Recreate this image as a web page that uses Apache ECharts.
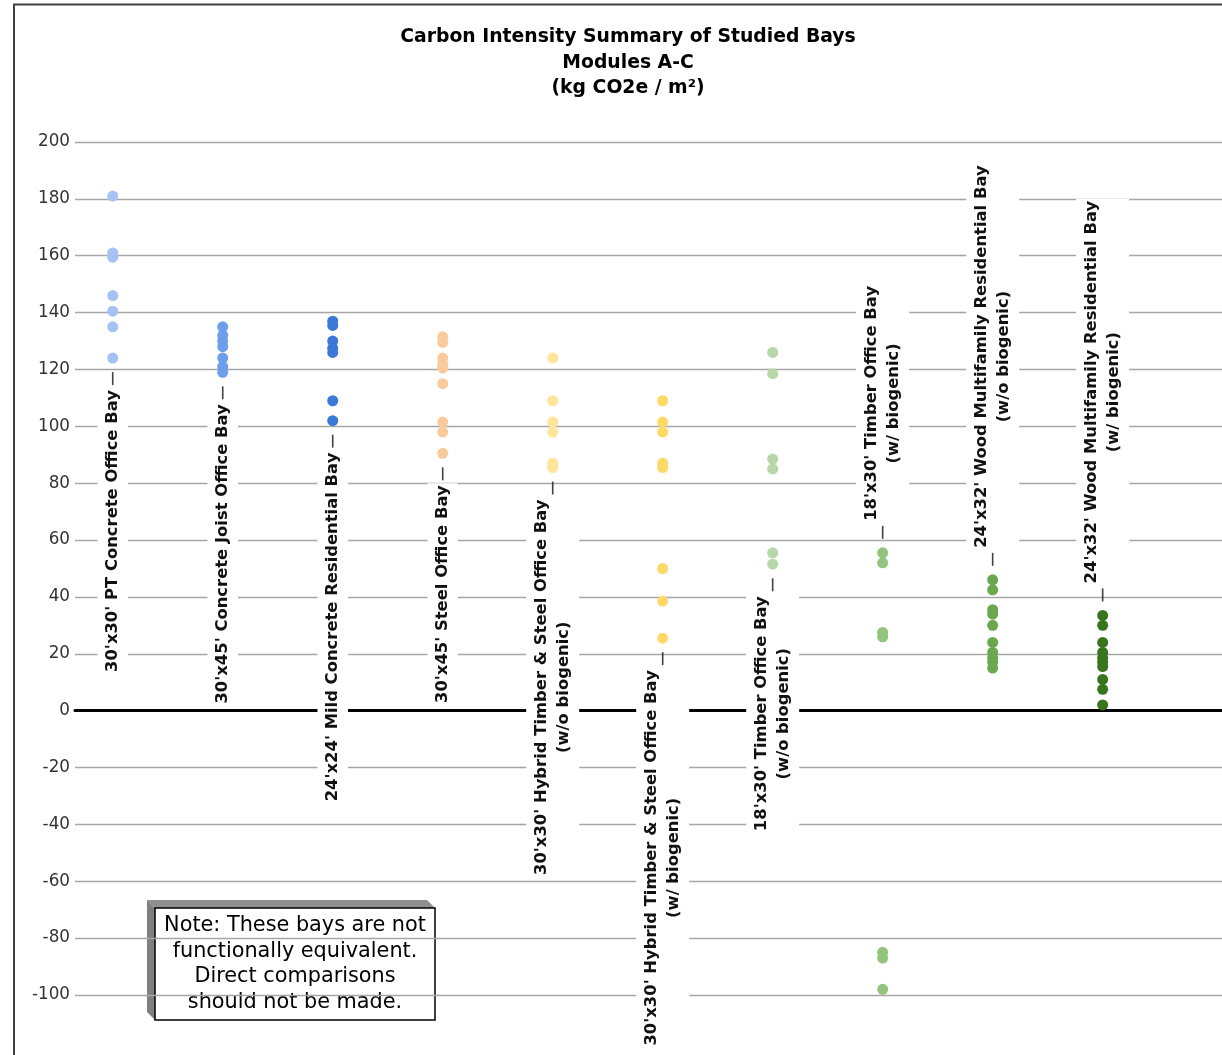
<!DOCTYPE html>
<html>
<head>
<meta charset="utf-8">
<script src="https://cdn.jsdelivr.net/npm/echarts@6/dist/echarts.min.js"></script>
<style>
  html, body { margin: 0; padding: 0; background: #fff; }
  #chart { width: 1222px; height: 1055px; }
</style>
</head>
<body>
<div id="chart"></div>
<script>
// Studied bays: structural description and biogenic-carbon note
const bayNames = [
  "30'x30' PT Concrete Office Bay",
  "30'x45' Concrete Joist Office Bay",
  "24'x24' Mild Concrete Residential Bay",
  "30'x45' Steel Office Bay",
  "30'x30' Hybrid Timber & Steel Office Bay",
  "30'x30' Hybrid Timber & Steel Office Bay",
  "18'x30' Timber Office Bay",
  "18'x30' Timber Office Bay",
  "24'x32' Wood Multifamily Residential Bay",
  "24'x32' Wood Multifamily Residential Bay"
];
const bayNotes = ['', '', '', '', '(w/o biogenic)', '(w/ biogenic)', '(w/o biogenic)', '(w/ biogenic)', '(w/o biogenic)', '(w/ biogenic)'];

// Carbon intensity of each design variant, Modules A-C (kg CO2e / m²)
const ptConcreteOffice = [181, 161, 159.5, 146, 140.5, 135, 124];
const concreteJoistOffice = [135, 132, 130, 128, 124, 121, 119];
const mildConcreteResidential = [137, 135.5, 130, 127.5, 126, 109, 102];
const steelOffice = [131.5, 129.5, 124, 122, 120.5, 115, 101.5, 98, 90.5];
const hybridNoBiogenic = [124, 109, 101.5, 98, 87, 85.5];
const hybridBiogenic = [109, 101.5, 98, 87, 85.5, 50, 38.5, 25.5];
const timberNoBiogenic = [126, 118.5, 88.5, 85, 55.5, 51.5];
const timberBiogenic = [55.5, 52, 27.5, 26, -85, -87, -98];
const woodResNoBiogenic = [46, 42.5, 35.5, 34, 30, 24, 20.5, 18.5, 17, 15];
const woodResBiogenic = [33.5, 30, 24, 20.5, 18.5, 17, 15.5, 11, 7.5, 2];

// Value axis range and tick step
const yMin = -100;
const yMax = 200;
const yStep = 20;

const bayValues = [
  ptConcreteOffice, concreteJoistOffice, mildConcreteResidential, steelOffice,
  hybridNoBiogenic, hybridBiogenic, timberNoBiogenic, timberBiogenic,
  woodResNoBiogenic, woodResBiogenic
];

// Styling
const dotColors = ['#a4c2f4', '#6d9eeb', '#3c78d8', '#f9cb9c', '#ffe599', '#ffd966', '#b6d7a8', '#93c47d', '#6aa84f', '#38761d'];
const labelSide = ['below', 'below', 'below', 'below', 'below', 'below', 'below', 'above', 'above', 'above'];
const FONT = '"DejaVu Sans", "Noto Sans", sans-serif';
const DOT = 11;
const LEADER_GAP = 14;   // dot centre to start of leader
const LEADER_LEN = 13;
const TEXT_GAP = 5;      // leader to label text
const PAD = [4, 2];

function labelText(i) {
  let s = '{t|' + bayNames[i] + '}';
  if (bayNotes[i]) s += '\n{t|' + bayNotes[i] + '}';
  return s;
}

const series = bayValues.map((vals, i) => {
  const below = labelSide[i] === 'below';
  const anchor = below ? Math.min(...vals) : Math.max(...vals);
  const anchorIdx = vals.indexOf(anchor);
  return {
    type: 'scatter',
    name: bayNames[i] + (bayNotes[i] ? ' ' + bayNotes[i] : ''),
    symbolSize: DOT,
    z: 3,
    itemStyle: { color: dotColors[i], opacity: 1 },
    emphasis: { disabled: true },
    data: vals.map((v, k) => {
      if (k !== anchorIdx) return [i, v];
      return {
        value: [i, v],
        label: {
          show: true,
          position: below ? 'bottom' : 'top',
          distance: LEADER_GAP + LEADER_LEN + TEXT_GAP - DOT / 2 - PAD[1],
          rotate: 90,
          align: below ? 'right' : 'left',
          verticalAlign: 'middle',
          backgroundColor: '#ffffff',
          padding: PAD,
          formatter: () => labelText(i),
          rich: {
            t: { fontFamily: FONT, fontSize: 16.4, fontWeight: 'bold', color: '#111', lineHeight: 22.5, align: 'center' }
          }
        }
      };
    })
  };
});

// Short leader ticks between each bay's dots and its label
series.push({
  type: 'scatter',
  name: 'leaders',
  silent: true,
  z: 4,
  symbol: 'rect',
  itemStyle: { color: '#111' },
  data: bayValues.map((vals, i) => {
    const below = labelSide[i] === 'below';
    const anchor = below ? Math.min(...vals) : Math.max(...vals);
    const off = LEADER_GAP + LEADER_LEN / 2;
    return { value: [i, anchor], symbolSize: [1.6, LEADER_LEN], symbolOffset: [0, below ? off : -off] };
  })
});

const chart = echarts.init(document.getElementById('chart'), null, { renderer: 'canvas' });

chart.setOption({
  backgroundColor: '#ffffff',
  animation: false,
  grid: { left: 75, right: -6, top: 142, bottom: 60, containLabel: false },
  xAxis: {
    type: 'value',
    min: -0.343,
    max: 10.085,
    axisLine: { show: true, onZero: true, lineStyle: { color: '#000', width: 3 } },
    axisTick: { show: false },
    axisLabel: { show: false },
    splitLine: { show: false }
  },
  yAxis: {
    type: 'value',
    min: yMin,
    max: yMax,
    interval: yStep,
    axisLine: { show: false },
    axisTick: { show: false },
    axisLabel: { fontFamily: FONT, fontSize: 16.8, color: '#333', margin: 5 },
    splitLine: { lineStyle: { color: '#a6a6a6', width: 1.3 } }
  },
  series: series,
  graphic: [
    {
      type: 'polyline', z: 100, silent: true,
      shape: { points: [[14, 1070], [14, 4.5], [1240, 4.5]] },
      style: { stroke: '#404040', lineWidth: 2, fill: null }
    },
    {
      type: 'text', z: 100, x: 628, y: 24.5,
      style: {
        text: 'Carbon Intensity Summary of Studied Bays\nModules A-C\n(kg CO2e / m²)',
        fontFamily: FONT, fontSize: 18.8, fontWeight: 'bold', fill: '#000',
        align: 'center', verticalAlign: 'top', lineHeight: 25.5
      }
    },
    {
      type: 'group', z: 100,
      children: [
        { type: 'polygon', shape: { points: [[147, 900], [427, 900], [435, 908], [155, 908]] }, style: { fill: '#8f8f8f' } },
        { type: 'polygon', shape: { points: [[147, 900], [155, 908], [155, 1020], [147, 1012]] }, style: { fill: '#7f7f7f' } },
        { type: 'rect', shape: { x: 155, y: 908, width: 280, height: 112 }, style: { fill: '#fff', stroke: '#000', lineWidth: 1.5 } },
        {
          type: 'text', x: 295, y: 913,
          style: {
            text: 'Note: These bays are not\nfunctionally equivalent.\nDirect comparisons\nshould not be made.',
            fontFamily: FONT, fontSize: 20.8, fill: '#000', align: 'center', verticalAlign: 'top', lineHeight: 25.5
          }
        }
      ]
    }
  ]
});
</script>
</body>
</html>
